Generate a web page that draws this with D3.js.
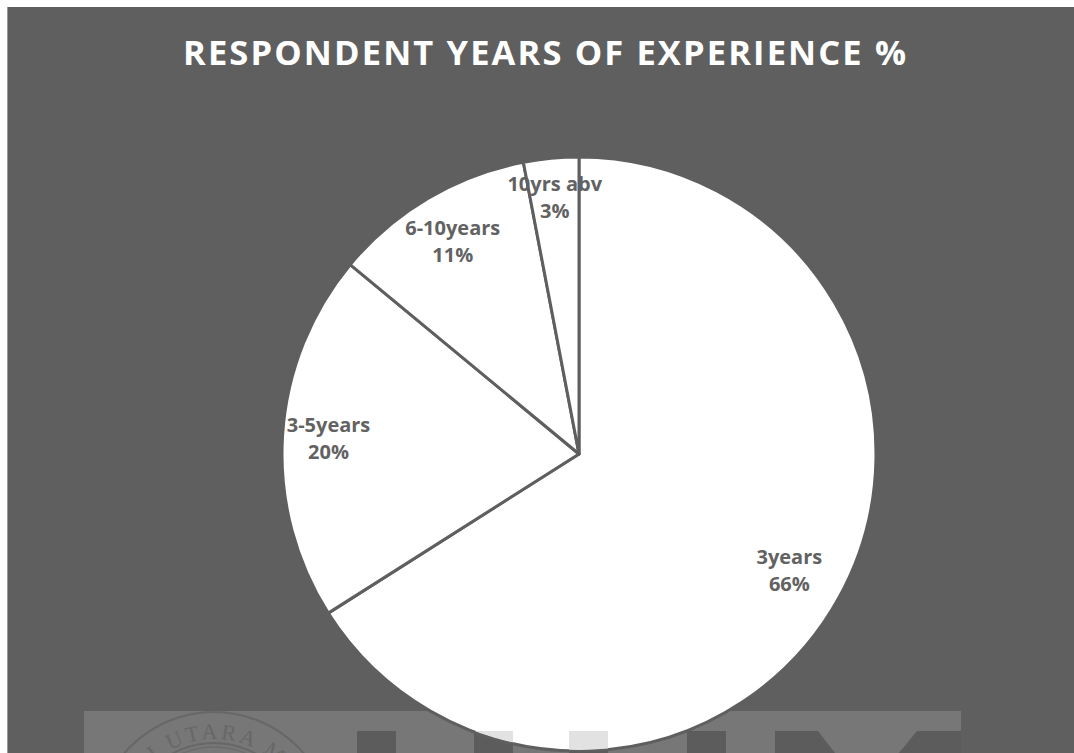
<!DOCTYPE html>
<html>
<head>
<meta charset="utf-8">
<script src="https://cdn.jsdelivr.net/npm/d3@7/dist/d3.min.js"></script>
<style>
  html, body { margin: 0; padding: 0; background: #ffffff; }
  svg { display: block; }
</style>
</head>
<body>
<script>
// Survey breakdown: respondents by years of experience
const titleText = "RESPONDENT YEARS OF EXPERIENCE %";
const categories = ["3years", "3-5years", "6-10years", "10yrs abv"];
const percents = [66, 20, 11, 3];

const W = 1074, H = 753;
const bg = "#5f5f5f";
const cx = 579, cy = 454, R = 297;
// distance from centre at which each two-line label sits
const labelRadius = [240, 251, 248, 258];

const svg = d3.select("body").append("svg")
  .attr("width", W).attr("height", H);

const defs = svg.append("defs");

// chart area
svg.append("rect").attr("x", 0).attr("y", 0).attr("width", W).attr("height", H).attr("fill", "#ffffff");
svg.append("rect").attr("x", 8).attr("y", 7).attr("width", W - 8).attr("height", H - 7).attr("fill", bg);
svg.append("line").attr("x1", 7.5).attr("x2", 7.5).attr("y1", 7).attr("y2", H)
  .attr("stroke", "#9a9a9a").attr("stroke-width", 1);

// title
svg.append("text")
  .attr("x", 544.5).attr("y", 65)
  .attr("text-anchor", "middle")
  .attr("font-family", "'Open Sans', 'DejaVu Sans', sans-serif")
  .attr("font-weight", 700)
  .attr("font-size", 34.5)
  .attr("textLength", 723)
  .attr("lengthAdjust", "spacing")
  .attr("fill", "#ffffff")
  .text(titleText);

// ---- university watermark band along the bottom ----
const band = { x: 84, y: 711, w: 877 };
defs.append("clipPath").attr("id", "bandClip")
  .append("rect").attr("x", band.x).attr("y", band.y).attr("width", band.w).attr("height", H - band.y);
defs.append("clipPath").attr("id", "pieClip")
  .append("circle").attr("cx", cx).attr("cy", cy).attr("r", R - 1);

svg.append("rect").attr("x", band.x).attr("y", band.y)
  .attr("width", band.w).attr("height", H - band.y).attr("fill", "#777777");

// seal: rings with the university name set on an arc
const seal = svg.append("g").attr("clip-path", "url(#bandClip)");
const sx = 214, sy = 830;
seal.append("circle").attr("cx", sx).attr("cy", sy).attr("r", 118)
  .attr("fill", "none").attr("stroke", "#676767").attr("stroke-width", 2);
seal.append("circle").attr("cx", sx).attr("cy", sy).attr("r", 87)
  .attr("fill", "none").attr("stroke", "#676767").attr("stroke-width", 2);
seal.append("circle").attr("cx", sx).attr("cy", sy).attr("r", 83)
  .attr("fill", "none").attr("stroke", "#6c6c6c").attr("stroke-width", 1.5);
const rr = 91;
defs.append("path").attr("id", "sealArc")
  .attr("d", `M${sx - rr},${sy} A${rr},${rr} 0 0 1 ${sx + rr},${sy} A${rr},${rr} 0 0 1 ${sx - rr},${sy}`);
seal.append("text")
  .attr("font-family", "'Liberation Serif', 'DejaVu Serif', serif")
  .attr("font-size", 22)
  .attr("letter-spacing", 3)
  .attr("fill", "#676767")
  .append("textPath")
  .attr("href", "#sealArc")
  .attr("startOffset", Math.PI * rr / 2 - 10)
  .attr("text-anchor", "middle")
  .text("UNIVERSITI UTARA MALAYSIA");

// big wordmark letters (only their tops show above the page edge)
const wordmark = [
  [[357, 731], [396, 731], [396, 800], [357, 800]],
  [[474, 731], [513, 731], [513, 800], [474, 800]],
  [[569, 731], [608, 731], [608, 800], [569, 800]],
  [[687, 731], [726, 731], [726, 800], [687, 800]],
  [[775, 731], [818, 731], [866, 793], [917, 731], [975, 731], [975, 800], [775, 800]]
];
const poly = d3.line();
svg.append("g").attr("clip-path", "url(#bandClip)")
  .selectAll("path").data(wordmark).join("path")
  .attr("d", d => poly(d) + "Z")
  .attr("fill", "#5c5c5c");

// ---- pie ----
const data = categories.map((c, i) => ({ name: c, value: percents[i], i }));
const pie = d3.pie().sort(null).value(d => d.value);
const arcs = pie(data);
const arc = d3.arc().innerRadius(0).outerRadius(R);

const g = svg.append("g").attr("transform", `translate(${cx},${cy})`);
g.selectAll("path.slice").data(arcs).join("path")
  .attr("class", "slice")
  .attr("d", arc)
  .attr("fill", "#ffffff")
  .attr("stroke", bg)
  .attr("stroke-width", 3)
  .attr("stroke-linejoin", "round");

// wordmark showing faintly through the pie
svg.append("g").attr("clip-path", "url(#bandClip)")
  .append("g").attr("clip-path", "url(#pieClip)")
  .selectAll("path").data(wordmark).join("path")
  .attr("d", d => poly(d) + "Z")
  .attr("fill", "#e2e2e2");

// data labels: category name over percentage
const labels = g.selectAll("g.label").data(arcs).join("g")
  .attr("class", "label")
  .attr("transform", d => {
    const a = (d.startAngle + d.endAngle) / 2;
    const r = labelRadius[d.data.i];
    return `translate(${r * Math.sin(a)},${-r * Math.cos(a)})`;
  });
labels.each(function(d) {
  const t = d3.select(this).append("text")
    .attr("text-anchor", "middle")
    .attr("font-family", "'Open Sans', 'DejaVu Sans', sans-serif")
    .attr("font-weight", 700)
    .attr("font-size", 20)
    .attr("fill", "#626262");
  t.append("tspan").attr("x", 0).attr("y", -6).text(d.data.name);
  t.append("tspan").attr("x", 0).attr("y", 21).text(d.data.value + "%");
});
</script>
</body>
</html>
